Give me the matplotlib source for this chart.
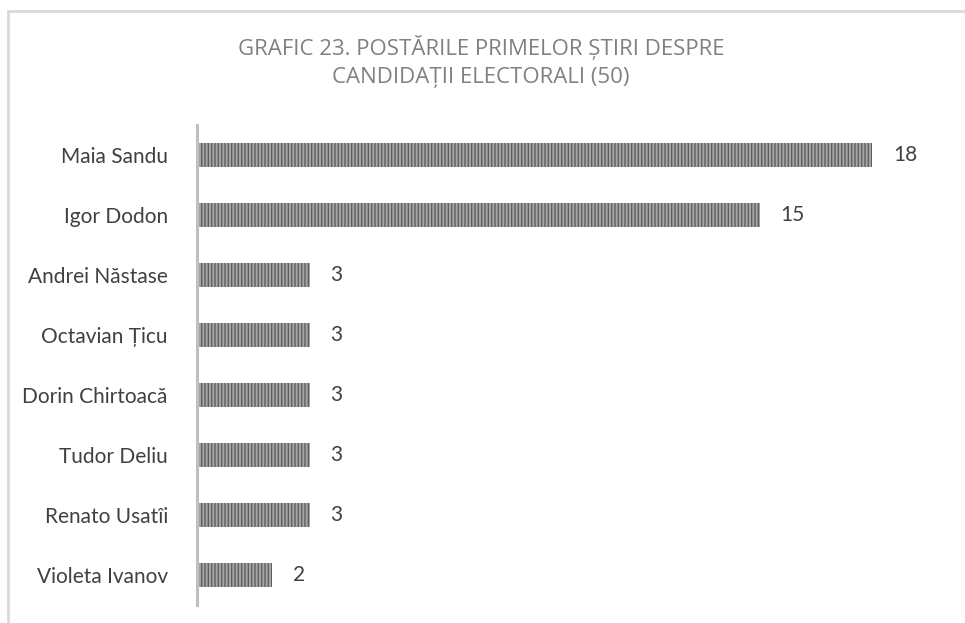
import matplotlib
matplotlib.use("Agg")
import matplotlib.pyplot as plt
from matplotlib.patches import Rectangle

candidates = ["Maia Sandu", "Igor Dodon", "Andrei Năstase", "Octavian Țicu",
              "Dorin Chirtoacă", "Tudor Deliu", "Renato Usatîi", "Violeta Ivanov"]
posts = [18, 15, 3, 3, 3, 3, 3, 2]
title_lines = ["GRAFIC 23. POSTĂRILE PRIMELOR ȘTIRI DESPRE", "CANDIDAȚII ELECTORALI (50)"]

plt.rcParams['font.family'] = ['Lato', 'DejaVu Sans']
plt.rcParams['hatch.linewidth'] = 1.0

fig = plt.figure(figsize=(9.65, 6.23), dpi=100)
fig.patches.append(Rectangle((8/965, -0.1), 1.2, (623-11)/623 + 0.1,
                             transform=fig.transFigure, fill=False,
                             edgecolor='#d9d9d9', linewidth=2))

ax = fig.add_axes([197/965, 18/623, 750/965, 480/623])
y = list(range(len(candidates)))
bars = ax.barh(y, posts, height=0.4, color='#a6a6a6', edgecolor='#5f5f5f',
               linewidth=0, hatch='|||||')
ax.set_ylim(len(candidates) - 0.5, -0.5)
ax.set_xlim(0, 20)
ax.set_yticks(y)
ax.set_yticklabels(candidates, fontsize=15, color='#404040')
ax.tick_params(axis='y', length=0, pad=21)
ax.set_xticks([])
for s in ['top', 'right', 'bottom']:
    ax.spines[s].set_visible(False)
ax.spines['left'].set_color('#bfbfbf')
ax.spines['left'].set_linewidth(2.2)
for yi, v in zip(y, posts):
    ax.annotate(str(v), (v, yi), xytext=(15, 0), textcoords='offset points',
                va='center', ha='left', fontsize=15, color='#404040')

title_font = ['Open Sans', 'DejaVu Sans']
fig.text(481/965, 1 - 48/623, title_lines[0], ha='center', va='center',
         fontsize=16, color='#808080', family=title_font)
fig.text(481/965, 1 - 78/623, title_lines[1], ha='center', va='center',
         fontsize=16, color='#808080', family=title_font)

fig.savefig("out.png", dpi=100)
